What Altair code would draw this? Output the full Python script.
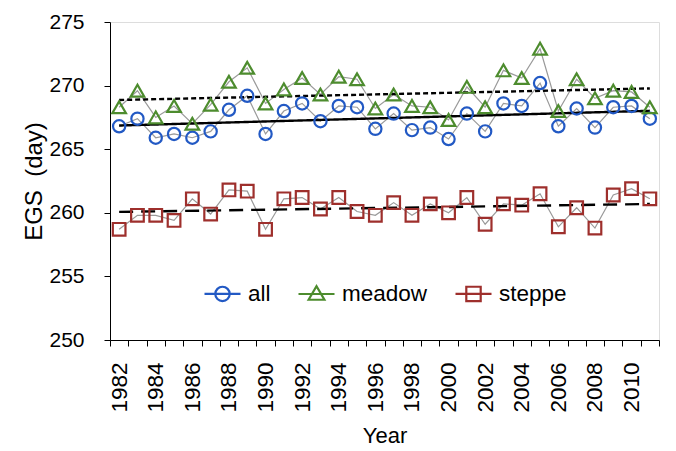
import altair as alt
import pandas as pd

years = list(range(1982, 2012))
all_vals = [266.8, 267.4, 265.9, 266.2, 265.9, 266.4, 268.1, 269.2, 266.2, 268.0,
            268.6, 267.2, 268.4, 268.3, 266.6, 267.8, 266.5, 266.7, 265.8, 267.8,
            266.4, 268.6, 268.4, 270.2, 266.8, 268.2, 266.7, 268.3, 268.4, 267.4]
meadow_vals = [268.3, 269.6, 267.5, 268.4, 267.0, 268.5, 270.3, 271.4, 268.6, 269.7,
               270.6, 269.3, 270.7, 270.5, 268.2, 269.3, 268.4, 268.3, 267.3, 269.9,
               268.3, 271.2, 270.6, 272.9, 268.0, 270.5, 269.0, 269.6, 269.5, 268.3]
steppe_vals = [258.7, 259.8, 259.8, 259.4, 261.1, 259.9, 261.8, 261.7, 258.7, 261.1,
               261.2, 260.3, 261.2, 260.1, 259.8, 260.8, 259.8, 260.7, 260.0, 261.2,
               259.1, 260.7, 260.6, 261.5, 258.9, 260.4, 258.8, 261.4, 261.9, 261.1]
series_names = ["all", "meadow", "steppe"]
series_colors = ["#2259c4", "#4d8c2e", "#9e2f2c"]
series_shapes = ["circle", "triangle-up", "square"]
series_sizes = [150, 185, 160]
trend_dashes = [[1, 0], [5, 3], [14, 8]]
# legend symbols: marker with a horizontal line through it
legend_shapes = [
    "M-1,0L1,0M-0.4,0A0.4,0.4,0,1,1,0.4,0A0.4,0.4,0,1,1,-0.4,0",
    "M-1,0L1,0M-0.44,0.32L0,-0.44L0.44,0.32Z",
    "M-1,0L1,0M-0.4,-0.4L0.4,-0.4L0.4,0.4L-0.4,0.4Z",
]

rows = []
for name, vals in zip(series_names, [all_vals, meadow_vals, steppe_vals]):
    for yr, v in zip(years, vals):
        rows.append({"year": yr, "value": v, "series": name})
df = pd.DataFrame(rows)

FONT = "Liberation Sans"

x_enc = alt.X(
    "year:O",
    scale=alt.Scale(type="band", domain=years, paddingInner=0, paddingOuter=0),
    axis=alt.Axis(
        title="Year", tickBand="extent", labelAngle=-90,
        labelExpr="datum.value % 2 == 0 ? datum.label : ''",
        labelOverlap=False, labelFontSize=22.5, labelPadding=16,
        tickSize=6, tickColor="black", domainColor="black",
        labelColor="black", titleFontSize=22, titleFontWeight="normal",
        titlePadding=13, titleColor="black", labelFont=FONT, titleFont=FONT,
    ),
)
y_enc = alt.Y(
    "value:Q",
    scale=alt.Scale(domain=[250, 275], zero=False, nice=False),
    axis=alt.Axis(
        title="EGS\u00a0\u00a0(day)", values=[250, 255, 260, 265, 270, 275], grid=False,
        labelFontSize=21, labelPadding=20, tickSize=6, tickColor="black",
        domainColor="black", labelColor="black", titleFontSize=24,
        titleFontWeight="normal", titlePadding=2, titleColor="black",
        labelFont=FONT, titleFont=FONT,
    ),
)

base = alt.Chart(df)

lines = base.mark_line(color="#9a9a9a", strokeWidth=1.2).encode(
    x=x_enc, y=y_enc, detail="series:N"
)

point_layers = []
for name, col, shp, sz in zip(series_names, series_colors, series_shapes, series_sizes):
    point_layers.append(
        base.transform_filter(alt.datum.series == name)
        .mark_point(filled=False, strokeWidth=2.2, size=sz, opacity=1,
                    color=col, shape=shp)
        .encode(x=x_enc, y=y_enc)
    )

legend_layer = base.mark_point(filled=False, opacity=0).encode(
    x=x_enc,
    y=y_enc,
    color=alt.Color(
        "series:N",
        scale=alt.Scale(domain=series_names, range=series_colors),
        legend=alt.Legend(
            title=None, orient="none", legendX=93, legendY=252,
            direction="horizontal", labelFontSize=22.5, labelFont=FONT,
            labelColor="black", symbolSize=1296, symbolStrokeWidth=2.2,
            symbolOpacity=1, columnPadding=23, labelOffset=6,
        ),
    ),
    shape=alt.Shape(
        "series:N",
        scale=alt.Scale(domain=series_names, range=legend_shapes),
    ),
)

trend_layers = []
for name, dash in zip(series_names, trend_dashes):
    trend_layers.append(
        base.transform_filter(alt.datum.series == name)
        .transform_regression("year", "value", extent=[1982, 2011])
        .mark_line(color="black", strokeWidth=2.4, strokeDash=dash)
        .encode(x=x_enc, y=y_enc)
    )

chart = alt.layer(lines, *trend_layers, *point_layers, legend_layer).properties(
    width=549, height=318,
    autosize=alt.AutoSizeParams(type="none"),
    padding={"left": 110, "top": 22, "right": 17, "bottom": 111},
).configure_view(stroke=None).configure(background="white")

chart.save("out.html", embed_options={"renderer": "svg", "actions": False})
